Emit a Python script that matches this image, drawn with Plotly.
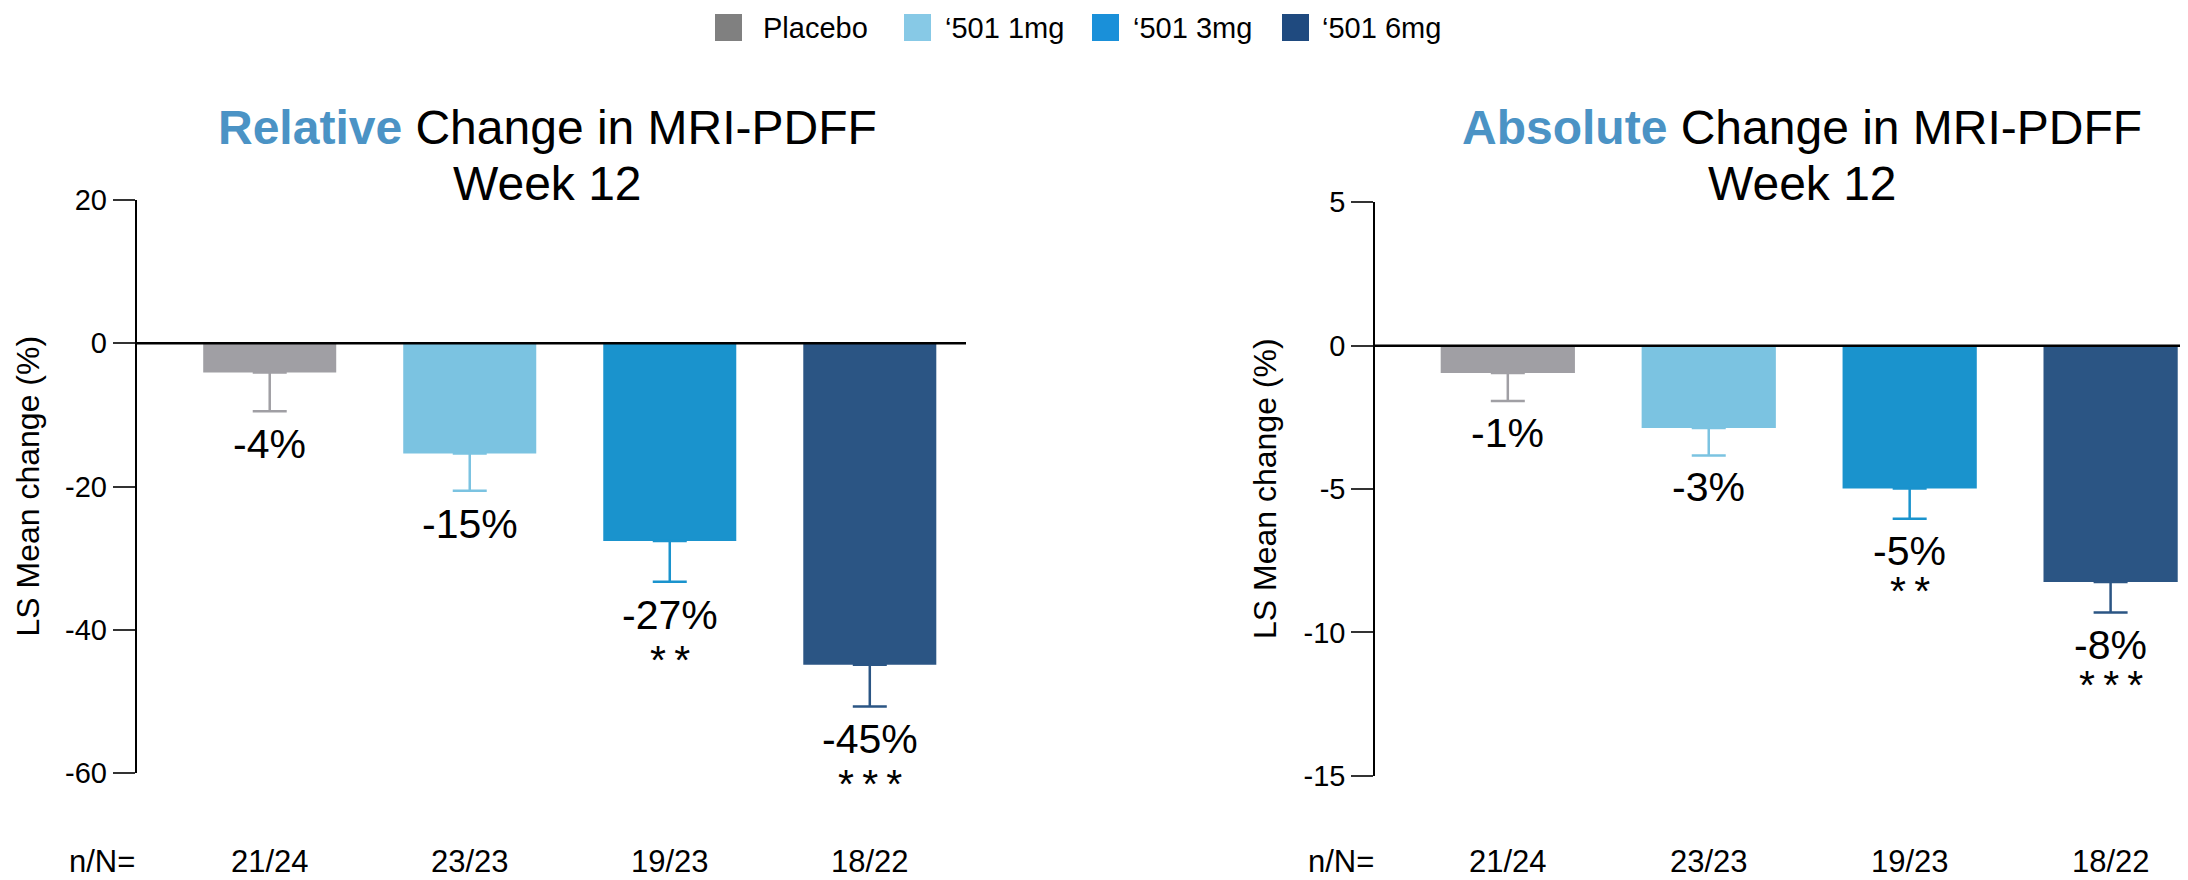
import plotly.graph_objects as go

# ---------------- data ----------------
groups = ["Placebo", "\u2018501 1mg", "\u2018501 3mg", "\u2018501 6mg"]
n_over_N = ["21/24", "23/23", "19/23", "18/22"]

rel_mean = [-4.1, -15.4, -27.6, -44.9]
rel_err = [5.4, 5.2, 5.7, 5.8]
rel_labels = ["-4%", "-15%", "-27%", "-45%"]

abs_mean = [-0.95, -2.87, -4.98, -8.24]
abs_err = [0.98, 0.96, 1.06, 1.07]
abs_labels = ["-1%", "-3%", "-5%", "-8%"]

signif = ["", "", "**", "***"]

rel_tickvals = [20, 0, -20, -40, -60]
rel_ticktext = ["20", "0", "-20", "-40", "-60"]
abs_tickvals = [5, 0, -5, -10, -15]
abs_ticktext = ["5", "0", "-5", "-10", "-15"]

bar_colors = ["#A09FA4", "#7BC3E1", "#1A93CD", "#2B5584"]
legend_colors = ["#808080", "#87C9E6", "#1A90D9", "#1F4A7F"]

# ---------------- layout helpers ----------------
W, H = 2188, 880
PAGE_OFF = 8  # default page margin of the html body
FONT = "Liberation Sans, Arial, Helvetica, sans-serif"


def fx(px):
    return (px - PAGE_OFF) / W


def fy(py):
    return 1 - (py - PAGE_OFF) / H


panels = [
    dict(mean=rel_mean, err=rel_err, labels=rel_labels, xa="x", ya="y",
         xdom=[fx(136.5), fx(966)], ydom=[fy(773), fy(200)],
         xrange=[-0.666, 3.481], yrange=[-60, 20], width=0.665,
         tickvals=rel_tickvals, ticktext=rel_ticktext,
         word="Relative", title_x=547, ylab_x=28, axis_px=137,
         lab_shift=-33, star_shift=-78),
    dict(mean=abs_mean, err=abs_err, labels=abs_labels, xa="x2", ya="y2",
         xdom=[fx(1375), 1.0], ydom=[fy(775.7), fy(202.3)],
         xrange=[-0.661, 3.425], yrange=[-15, 5], width=0.668,
         tickvals=abs_tickvals, ticktext=abs_ticktext,
         word="Absolute", title_x=1802, ylab_x=1265, axis_px=1376,
         lab_shift=-32, star_shift=-72),
]

fig = go.Figure()
annotations = []
shapes = []

for k, p in enumerate(panels):
    for i, g in enumerate(groups):
        fig.add_trace(go.Bar(
            x=[g], y=[p["mean"][i]], width=p["width"],
            marker=dict(color=bar_colors[i], line=dict(width=0)),
            error_y=dict(type="data", symmetric=False, array=[0],
                         arrayminus=[p["err"][i]], color=bar_colors[i],
                         thickness=2.5, width=17),
            xaxis=p["xa"], yaxis=p["ya"], showlegend=False, name=g,
        ))
        low = p["mean"][i] - p["err"][i]
        annotations.append(dict(
            x=g, y=low, xref=p["xa"], yref=p["ya"], text=p["labels"][i],
            showarrow=False, yanchor="middle", yshift=p["lab_shift"],
            font=dict(size=41, color="black", family=FONT)))
        if signif[i]:
            annotations.append(dict(
                x=g, y=low, xref=p["xa"], yref=p["ya"],
                text="\u2009".join(signif[i]),
                showarrow=False, yanchor="middle", yshift=p["star_shift"],
                font=dict(size=41, color="black", family=FONT)))
        annotations.append(dict(
            x=g, y=fy(861), xref=p["xa"], yref="paper", text=n_over_N[i],
            showarrow=False, yanchor="middle",
            font=dict(size=31, color="black", family=FONT)))
    # n/N= label
    annotations.append(dict(
        x=fx(p["axis_px"]), y=fy(861), xref="paper", yref="paper",
        text="n/N=", showarrow=False, xanchor="right", yanchor="middle",
        font=dict(size=31, color="black", family=FONT)))
    # titles
    annotations.append(dict(
        x=fx(p["title_x"]), y=fy(128), xref="paper", yref="paper",
        text="<b><span style='color:#4B93C5'>" + p["word"] +
             "</span></b> Change in MRI-PDFF",
        showarrow=False, xanchor="center", yanchor="middle",
        font=dict(size=48, color="black", family=FONT)))
    annotations.append(dict(
        x=fx(p["title_x"]), y=fy(184), xref="paper", yref="paper",
        text="Week 12", showarrow=False, xanchor="center", yanchor="middle",
        font=dict(size=48, color="black", family=FONT)))
    # y axis title
    annotations.append(dict(
        x=fx(p["ylab_x"]), y=(p["ydom"][0] + p["ydom"][1]) / 2,
        xref="paper", yref="paper", text="LS Mean change (%)",
        textangle=-90, showarrow=False, xanchor="center", yanchor="middle",
        font=dict(size=32, color="black", family=FONT)))
    # zero line above bars
    shapes.append(dict(type="line", xref=p["xa"] + " domain", yref=p["ya"],
                       x0=0, x1=1, y0=0, y1=0, layer="above",
                       line=dict(color="black", width=2.5)))

# legend (manual, large square swatches)
leg_sq_left = [715, 904, 1092, 1282]
leg_txt_left = [761, 943, 1131, 1320]
for i, g in enumerate(groups):
    shapes.append(dict(type="rect", xref="paper", yref="paper",
                       x0=fx(leg_sq_left[i]), x1=fx(leg_sq_left[i] + 27),
                       y0=fy(41), y1=fy(14), line=dict(width=0),
                       fillcolor=legend_colors[i]))
    annotations.append(dict(
        x=fx(leg_txt_left[i]), y=fy(27.5), xref="paper", yref="paper",
        text=g, showarrow=False, xanchor="left", yanchor="middle",
        font=dict(size=29, color="black", family=FONT)))

axis_common_y = dict(showgrid=False, zeroline=False, showline=True,
                     linecolor="black", linewidth=1.5, ticks="outside",
                     ticklen=22, tickwidth=1.5, tickcolor="#333333",
                     tickmode="array", automargin=False,
                     tickfont=dict(size=29, color="black", family=FONT))
axis_common_x = dict(showgrid=False, zeroline=False, showline=False,
                     showticklabels=False, ticks="", type="category",
                     automargin=False)

fig.update_layout(
    width=W, height=H, autosize=False,
    margin=dict(l=0, r=0, t=0, b=0, pad=0, autoexpand=False),
    paper_bgcolor="white", plot_bgcolor="white",
    barmode="overlay", showlegend=False,
    font=dict(family=FONT, color="black"),
    xaxis=dict(domain=panels[0]["xdom"], range=panels[0]["xrange"],
               anchor="y", **axis_common_x),
    yaxis=dict(domain=panels[0]["ydom"], range=panels[0]["yrange"],
               anchor="x", tickvals=panels[0]["tickvals"],
               ticktext=panels[0]["ticktext"], **axis_common_y),
    xaxis2=dict(domain=panels[1]["xdom"], range=panels[1]["xrange"],
                anchor="y2", **axis_common_x),
    yaxis2=dict(domain=panels[1]["ydom"], range=panels[1]["yrange"],
                anchor="x2", tickvals=panels[1]["tickvals"],
                ticktext=panels[1]["ticktext"], **axis_common_y),
    annotations=annotations, shapes=shapes,
)

fig.write_html("out.html")
